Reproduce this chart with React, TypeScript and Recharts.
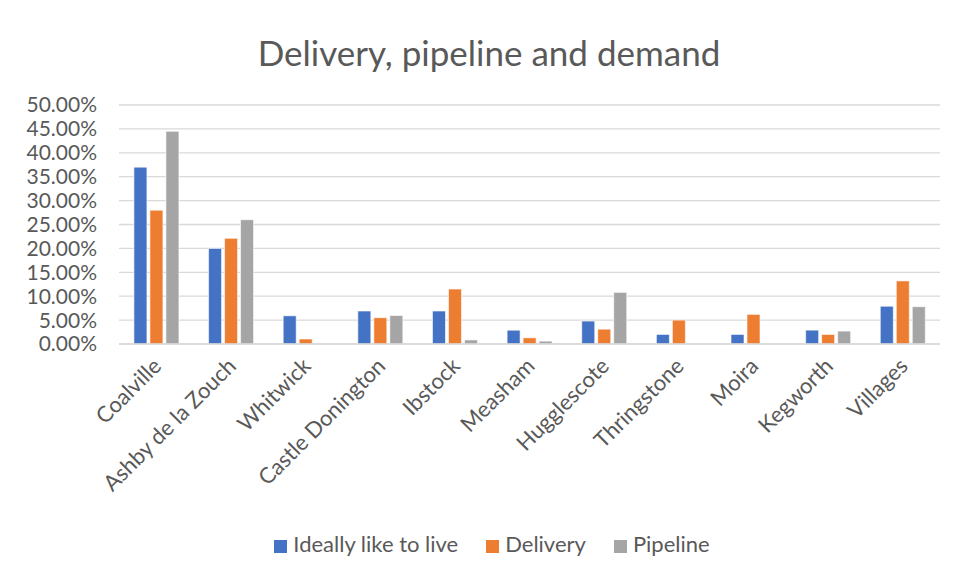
import React from 'react';
import { BarChart, Bar, XAxis, YAxis, CartesianGrid, Legend } from 'recharts';

const places = [
  'Coalville',
  'Ashby de la Zouch',
  'Whitwick',
  'Castle Donington',
  'Ibstock',
  'Measham',
  'Hugglescote',
  'Thringstone',
  'Moira',
  'Kegworth',
  'Villages',
];
const ideally = [0.37, 0.2, 0.059, 0.069, 0.069, 0.029, 0.048, 0.02, 0.02, 0.029, 0.079];
const delivery = [0.28, 0.221, 0.0105, 0.055, 0.115, 0.013, 0.031, 0.05, 0.062, 0.02, 0.132];
const pipeline = [0.445, 0.26, 0, 0.0595, 0.0085, 0.006, 0.108, 0, 0, 0.027, 0.078];
const yTicks = [0, 0.05, 0.1, 0.15, 0.2, 0.25, 0.3, 0.35, 0.4, 0.45, 0.5];
const seriesOrder = ['Ideally like to live', 'Delivery', 'Pipeline'];

const data = places.map((p, i) => ({
  place: p,
  ideally: ideally[i],
  delivery: delivery[i],
  pipeline: pipeline[i],
}));

const font = 'Lato, "Open Sans", sans-serif';
const textColor = '#595959';

const PlaceTick = (props: any) => {
  const { x, y, payload } = props;
  return (
    <g transform={`translate(${x + 1},${y + 10})`}>
      <text
        x={0}
        y={0}
        dy="0.35em"
        transform="rotate(-45)"
        textAnchor="end"
        fill={textColor}
        fontSize={22}
        fontFamily={font}
      >
        {payload.value}
      </text>
    </g>
  );
};

const App = () => {
  return (
    <div style={{ width: 948, height: 572, overflow: 'hidden', marginLeft: -1, marginTop: -1 }}>
      <div
        style={{
          position: 'relative',
          width: 962,
          height: 571,
          borderLeft: '1px solid #d9d9d9',
          borderTop: '1px solid #d9d9d9',
          fontFamily: font,
        }}
      >
        <div
          style={{
            position: 'absolute',
            top: 23,
            left: 0,
            width: 962,
            textAlign: 'center',
            fontSize: 35,
            color: textColor,
          }}
        >
          Delivery, pipeline and demand
        </div>
        <BarChart
          width={962}
          height={571}
          data={data}
          margin={{ top: 97, right: 30, left: 0, bottom: 0 }}
          barCategoryGap="20%"
          barGap={3}
        >
          <CartesianGrid vertical={false} stroke="#d9d9d9" strokeWidth={1.3} />
          <XAxis
            dataKey="place"
            interval={0}
            tickLine={false}
            axisLine={{ stroke: '#d9d9d9', strokeWidth: 1.3 }}
            height={208}
            tick={<PlaceTick />}
          />
          <YAxis
            width={111}
            domain={[0, 0.5]}
            ticks={yTicks}
            interval={0}
            tickFormatter={(v: number) => `${(v * 100).toFixed(2)}%`}
            axisLine={false}
            tickLine={false}
            tickSize={0}
            tickMargin={22}
            tick={{ fill: textColor, fontSize: 21, fontFamily: font }}
          />
          <Legend
            verticalAlign="bottom"
            iconType="square"
            iconSize={13}
            itemSorter={(item: any) => seriesOrder.indexOf(item.value)}
            wrapperStyle={{ left: 17, width: 962, top: 522, fontSize: 22, fontFamily: font }}
            formatter={(value: string) => <span style={{ color: textColor, marginLeft: 2, marginRight: 18 }}>{value}</span>}
          />
          <Bar dataKey="ideally" name="Ideally like to live" fill="#4472C4" stroke="#ffffff" strokeWidth={0.6} isAnimationActive={false} />
          <Bar dataKey="delivery" name="Delivery" fill="#ED7D31" stroke="#ffffff" strokeWidth={0.6} isAnimationActive={false} />
          <Bar dataKey="pipeline" name="Pipeline" fill="#A5A5A5" stroke="#ffffff" strokeWidth={0.6} isAnimationActive={false} />
        </BarChart>
      </div>
    </div>
  );
};

export default App;
